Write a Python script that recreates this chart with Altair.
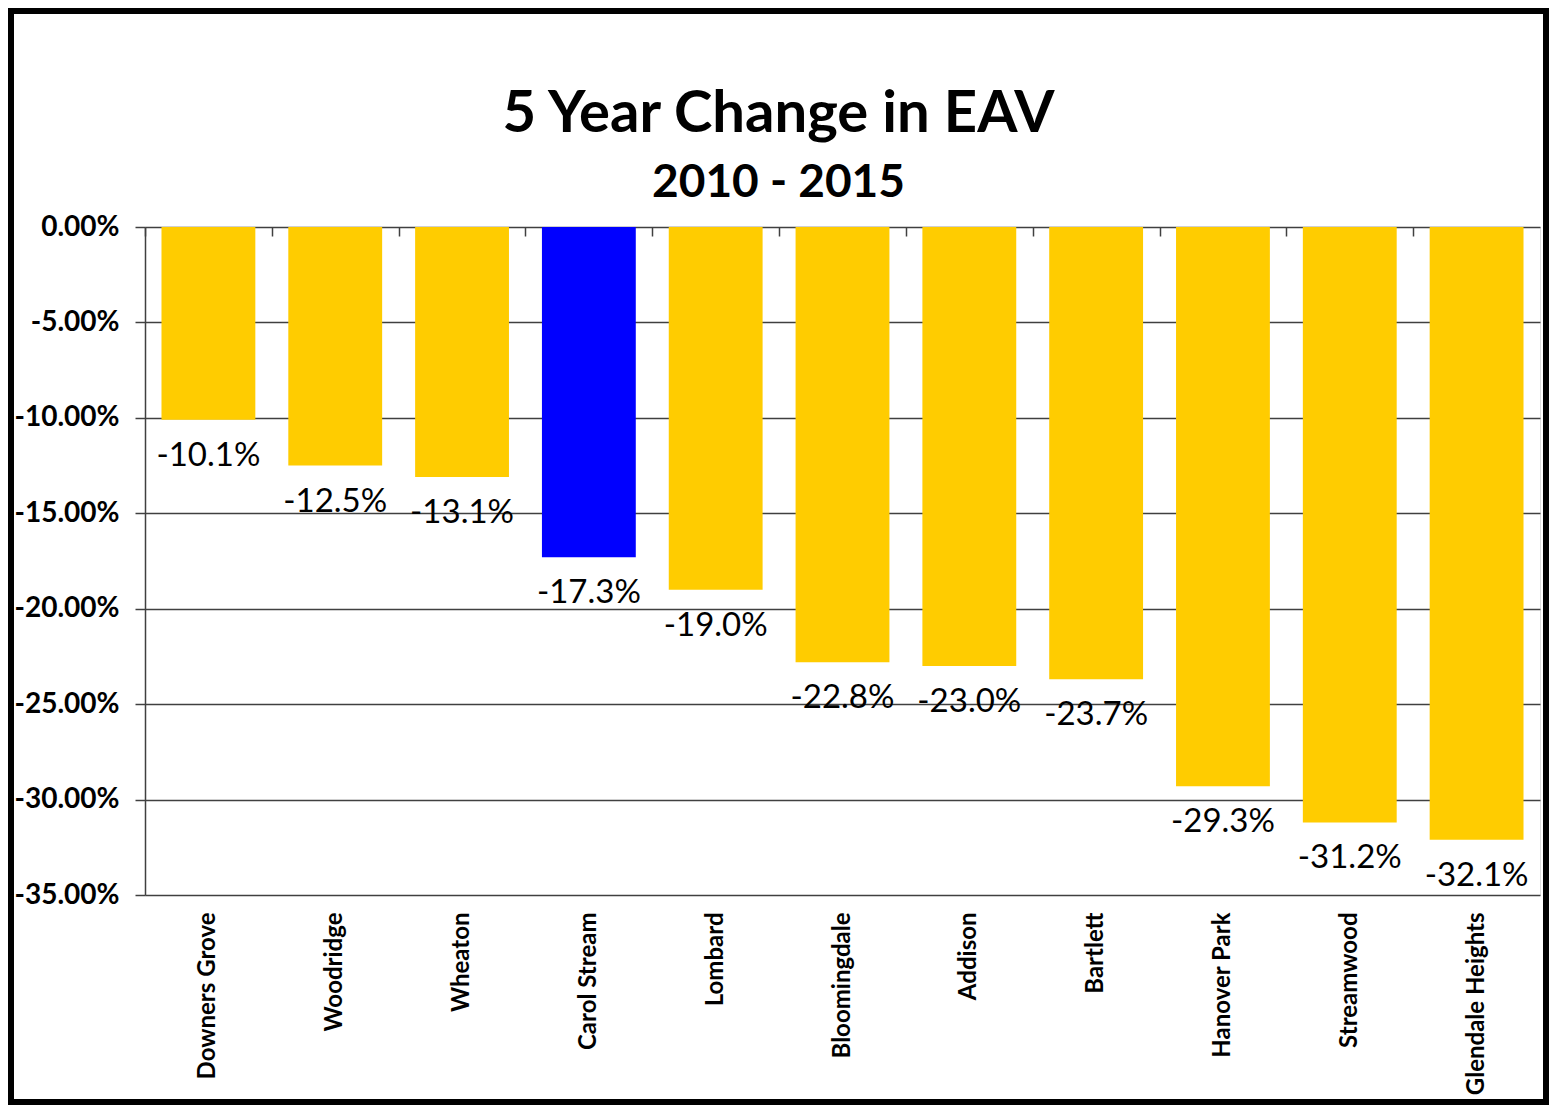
import altair as alt
import pandas as pd

towns = ["Downers Grove", "Woodridge", "Wheaton", "Carol Stream", "Lombard",
         "Bloomingdale", "Addison", "Bartlett", "Hanover Park", "Streamwood",
         "Glendale Heights"]
changes = [-0.101, -0.125, -0.131, -0.173, -0.190, -0.228, -0.230, -0.237,
           -0.293, -0.312, -0.321]
y_ticks = [0.0, -0.05, -0.10, -0.15, -0.20, -0.25, -0.30, -0.35]

df = pd.DataFrame({"town": towns, "change": changes})

W, H = 1395, 668
FONT = "Lato"
MINUS_FIX = "replace(datum.label, '\u2212', '-')"
x_scale = alt.Scale(paddingInner=0.26, paddingOuter=0.13)
y_scale = alt.Scale(domain=[-0.35, 0.0], nice=False)

base = alt.Chart(df).transform_calculate(
    lbl="replace(format(datum.change, '.1%'), '\u2212', '-')")

bars = base.mark_bar().encode(
    x=alt.X("town:N", sort=None, scale=x_scale,
            axis=alt.Axis(orient="top", title=None, labels=False, domain=False,
                          ticks=True, tickSize=9, offset=-9, bandPosition=0,
                          tickOffset=-16.5, tickColor="#404040", tickWidth=1.5,
                          grid=False)),
    y=alt.Y("change:Q", scale=y_scale,
            axis=alt.Axis(values=y_ticks, format=".2%", labelExpr=MINUS_FIX,
                          title=None, tickSize=10,
                          tickColor="#404040", tickWidth=1.5,
                          labelFont=FONT, labelFontSize=28, labelFontWeight="bold",
                          labelColor="black", labelPadding=16,
                          grid=True, gridColor="#404040", gridWidth=1.3,
                          domain=True, domainColor="#404040", domainWidth=1.5)),
    color=alt.condition(alt.datum.town == "Carol Stream",
                        alt.value("#0000FF"), alt.value("#FFCC00")),
)

labels = base.mark_text(baseline="alphabetic", dy=46, fontSize=33, font=FONT,
                        color="black").encode(
    x=alt.X("town:N", sort=None, scale=x_scale,
            axis=alt.Axis(orient="bottom", title=None, labelAngle=-90,
                          labelFont=FONT, labelFontSize=24, labelFontWeight="bold",
                          labelColor="black", labelPadding=17, labelLimit=400,
                          ticks=False, domain=False, grid=False)),
    y=alt.Y("change:Q", scale=y_scale),
    text=alt.Text("lbl:N"),
)

border = alt.Chart(alt.Data(values=[{"a": 1}])).mark_rect(
    filled=False, stroke="black", strokeWidth=6).encode(
    x=alt.value(-134), x2=alt.value(1401), y=alt.value(-216), y2=alt.value(875))

chart = alt.layer(bars, labels, border).resolve_axis(x="independent").properties(
    width=W, height=H, padding=0,
    title=alt.Title("5 Year Change in EAV", subtitle="2010 - 2015",
                    font=FONT, fontSize=58, fontWeight="bold", color="black",
                    subtitleFont=FONT, subtitleFontSize=46,
                    subtitleFontWeight="bold", subtitleColor="black",
                    subtitlePadding=17, anchor="middle", frame="bounds",
                    offset=-198),
).configure_view(stroke="#404040", strokeWidth=1.5).configure(background="white")

chart.save("out.html", embed_options={"renderer": "svg", "actions": False})
